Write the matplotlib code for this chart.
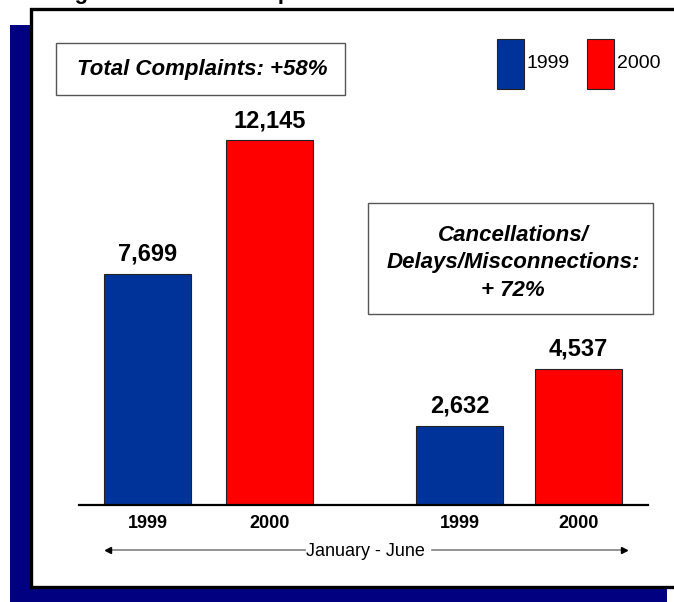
import matplotlib
matplotlib.use("Agg")
import matplotlib.pyplot as plt
from matplotlib.patches import Rectangle
from matplotlib.lines import Line2D

# data
years = ["1999", "2000", "1999", "2000"]
values = [7699, 12145, 2632, 4537]
positions = [0, 1.01, 2.58, 3.56]
bar_colors = ["#003399", "#ff0000", "#003399", "#ff0000"]
legend_years = ["1999", "2000"]
total_note = "Total Complaints: +58%"
cdm_note = "Cancellations/\nDelays/Misconnections:\n+ 72%"
period = "January - June"
title = "Large Increase in Complaints"

W, H = 674, 602
fig = plt.figure(figsize=(W / 100, H / 100), dpi=100)

def fx(x):
    return x / W

def fy(y):
    return 1 - y / H

arial = ["Liberation Sans", "DejaVu Sans"]

# navy shadow and white panel with heavy border
fig.patches.append(Rectangle((fx(10), fy(610)), fx(657), (610 - 25) / H,
                             transform=fig.transFigure, facecolor="#000080",
                             edgecolor="none", zorder=0))
fig.patches.append(Rectangle((fx(30.5), fy(586.5)), fx(700), (586.5 - 8.5) / H,
                             transform=fig.transFigure, facecolor="white",
                             edgecolor="black", linewidth=2.4, zorder=1))

# title cut off at top of the page
fig.text(fx(40), fy(-1), title, fontsize=16, fontweight="bold", family=arial,
         va="baseline", ha="left")

# bars
ax = fig.add_axes([fx(79), fy(505), fx(648 - 79), (505 - 100) / H])
ax.set_zorder(2)
ax.patch.set_visible(False)
ax.bar(positions, values, width=0.72, color=bar_colors,
       edgecolor="#222222", linewidth=0.8)
ax.set_xlim(-0.566, 4.136)
ax.set_ylim(0, 13476)
for s in ["top", "right", "left"]:
    ax.spines[s].set_visible(False)
ax.spines["bottom"].set_linewidth(1.6)
ax.set_yticks([])
ax.set_xticks(positions)
ax.set_xticklabels(years, fontsize=13, fontweight="bold", family=arial)
ax.tick_params(axis="x", length=0, pad=7)

for p, v in zip(positions, values):
    ax.annotate(f"{v:,}", (p, v), xytext=(0, 8), textcoords="offset pixels",
                ha="center", va="bottom", fontsize=17, fontweight="bold",
                family=arial)

# January - June with arrows
fig.text(fx(365), fy(551), period, fontsize=13, family=arial,
         ha="center", va="center")
for x0, x1, m in [(305, 108, "<"), (432, 624, ">")]:
    fig.add_artist(Line2D([fx(x0), fx(x1)], [fy(550), fy(550)],
                          transform=fig.transFigure, color="#808080", lw=1.2))
    fig.add_artist(Line2D([fx(x1)], [fy(550)], transform=fig.transFigure,
                          marker=m, color="black", markersize=4, lw=0))

# note boxes
fig.patches.append(Rectangle((fx(56), fy(95)), fx(345 - 56), (95 - 43) / H,
                             transform=fig.transFigure, facecolor="white",
                             edgecolor="#555555", linewidth=1.0, zorder=3))
fig.text(fx(202), fy(69), total_note, fontsize=16, fontweight="bold",
         style="italic", family=arial, ha="center", va="center", zorder=4)

fig.patches.append(Rectangle((fx(368), fy(314)), fx(653 - 368), (314 - 203) / H,
                             transform=fig.transFigure, facecolor="white",
                             edgecolor="#555555", linewidth=1.0, zorder=3))
fig.text(fx(513), fy(263), cdm_note, fontsize=16, fontweight="bold",
         style="italic", family=arial, ha="center", va="center",
         linespacing=1.4, zorder=4)

# legend
for (x0, lab, c) in zip([497, 587], legend_years, bar_colors[:2]):
    fig.patches.append(Rectangle((fx(x0), fy(89)), fx(27), 50 / H,
                                 transform=fig.transFigure, facecolor=c,
                                 edgecolor="#222222", linewidth=0.8, zorder=3))
    fig.text(fx(x0 + 30), fy(63), lab, fontsize=14, family=arial,
             ha="left", va="center", zorder=4)

fig.savefig("out.png", dpi=100)
